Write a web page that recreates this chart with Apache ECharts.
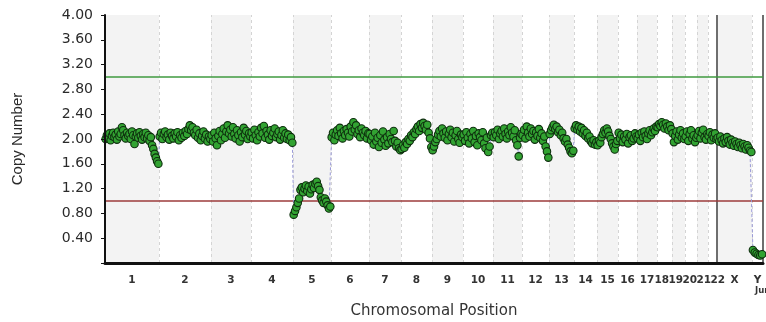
<!DOCTYPE html>
<html>
<head>
<meta charset="utf-8">
<script src="https://cdn.jsdelivr.net/npm/echarts@6/dist/echarts.min.js"></script>
<style>
html,body{margin:0;padding:0;background:#fff;}
#chart{width:766px;height:322px;}
</style>
</head>
<body>
<div id="chart"></div>
<script>
// ---- data ----
const chromNames = ['1','2','3','4','5','6','7','8','9','10','11','12','13','14','15','16','17','18','19','20','21','22','X','Y'];
const chromLengths = [54,52,40,42,38,38,32,31,31,30,29,27,25,23,21,19,20,15,13,12,11,9,35,11];
const yTickValues = [0.4,0.8,1.2,1.6,2.0,2.4,2.8,3.2,3.6,4.0];
const gainThreshold = 3.0;
const lossThreshold = 1.0;

const chr1Values = [2.00,2.06,2.02,2.09,1.98,2.05,2.10,2.03,2.07,1.99,2.12,2.04,2.08,2.19,2.14,2.06,2.01,2.10,2.05,2.08,2.00,2.12,2.06,1.92,2.04,2.09,2.02,2.11,2.05,1.99,2.08,2.03,2.10,2.01,2.06,1.97,2.03,1.90,1.84,1.76,1.70,1.64,1.60];
const chr2Values = [2.04,2.10,2.00,2.08,2.12,2.03,2.07,1.99,2.10,2.05,2.01,2.09,2.04,2.11,1.98,2.06,2.02,2.10,2.05,2.13,2.08,2.16,2.22,2.14,2.19,2.10,2.06,2.15,2.02,2.09,1.98,2.05,2.12,2.01,2.07,1.96,2.04,2.00];
const chr3Values = [2.06,1.96,2.10,2.01,1.90,2.05,2.13,1.98,2.08,2.17,2.02,2.12,2.22,2.09,2.15,2.04,2.19,2.08,2.01,2.14,2.06,1.96,2.11,2.03,2.18,2.07,2.13,2.00,2.09,2.04];
const chr4Values = [2.10,2.01,2.15,2.06,1.98,2.11,2.04,2.18,2.09,2.21,2.02,2.13,2.07,1.99,2.14,2.05,2.10,2.17,2.03,2.08,2.12,1.99,2.06,2.14,2.02,2.09,2.00,2.07,1.98,2.03,1.94];
const chr5Values = [0.78,0.84,0.90,0.97,1.04,1.18,1.22,1.14,1.20,1.25,1.16,1.23,1.12,1.19,1.26,1.21,1.28,1.31,1.24,1.18,1.06,1.01,0.97,1.04,0.99,0.93,0.88,0.91];
const chr6Values = [2.03,2.10,1.98,2.07,2.14,2.05,2.18,2.09,2.01,2.13,2.06,2.16,2.10,2.04,2.20,2.12,2.27,2.15,2.22,2.08,2.14,2.03,2.17,2.10,2.06,2.13,2.01,2.09];
const chr7Values = [2.08,1.98,2.04,1.91,2.10,1.96,2.02,1.87,2.06,1.94,2.12,1.99,1.89,2.03,1.93,2.08,2.00,1.95,2.13,1.97,1.88,1.94,1.85,1.82];
const chr8Values = [1.84,1.90,1.86,1.95,1.92,2.00,1.97,2.06,2.03,2.11,2.08,2.16,2.20,2.13,2.24,2.18,2.26,2.21,2.15,2.23,2.10,2.01,1.87];
const chr9Values = [1.82,1.88,1.95,2.00,2.07,2.13,2.04,2.17,2.09,2.02,2.12,1.98,2.08,2.15,2.03,2.10,1.96,2.06,2.13,2.00,1.94,2.07,2.03];
const chr10Values = [2.07,1.97,2.11,2.02,1.93,2.08,2.01,2.13,1.95,2.05,1.90,2.09,2.03,1.98,2.11,1.93,1.85,2.02,1.79,1.88,2.06,2.10];
const chr11Values = [2.03,2.11,2.06,2.15,2.00,2.09,2.13,2.04,2.17,2.08,2.01,2.12,2.06,2.19,2.10,2.04,2.14,1.98,1.90,1.72,2.02,2.08];
const chr12Values = [2.06,2.15,2.01,2.20,2.10,2.04,2.17,2.08,2.13,1.99,2.11,2.05,2.16,2.02,2.09,1.97,2.04,1.88,1.80,1.70];
const chr13Values = [2.08,2.14,2.19,2.23,2.16,2.20,2.11,2.15,2.06,2.10,2.01,1.96,2.00,1.91,1.86,1.80,1.77,1.81];
const chr14Values = [2.17,2.22,2.15,2.20,2.12,2.18,2.09,2.14,2.05,2.10,2.01,2.04,1.96,1.93,1.98,1.91,1.95];
const chr15Values = [1.90,1.97,1.94,2.03,2.08,2.14,2.10,2.17,2.12,2.05,2.00,1.93,1.88,1.83,1.92,1.97];
const chr16Values = [2.10,2.01,2.07,1.95,2.04,1.99,2.08,1.93,2.03,2.06,1.97,2.01,2.09,2.04];
const chr17Values = [2.01,2.07,1.97,2.10,2.03,2.12,2.05,2.00,2.09,2.14,2.06,2.11,2.17,2.13,2.20];
const chr18Values = [2.19,2.24,2.21,2.27,2.23,2.17,2.25,2.20,2.14,2.22,2.16];
const chr19Values = [2.09,1.95,2.05,2.12,1.99,2.07,2.14,2.02,2.09,2.00];
const chr20Values = [2.04,2.12,1.97,2.08,2.14,2.01,2.06,1.95,2.02];
const chr21Values = [2.06,2.13,2.01,2.10,2.15,2.03,1.99,2.08];
const chr22Values = [2.05,2.11,1.98,2.07,2.02,2.09,2.00];
const chrXValues = [2.02,1.96,2.04,1.98,1.93,2.01,1.95,2.03,1.97,1.91,1.99,1.94,1.89,1.96,1.92,1.87,1.94,1.90,1.85,1.92,1.88,1.83,1.90,1.86,1.81,1.79];
const chrYValues = [0.21,0.17,0.15,0.13,0.12,0.14];

const allChromValues = [chr1Values,chr2Values,chr3Values,chr4Values,chr5Values,chr6Values,chr7Values,chr8Values,chr9Values,chr10Values,chr11Values,chr12Values,chr13Values,chr14Values,chr15Values,chr16Values,chr17Values,chr18Values,chr19Values,chr20Values,chr21Values,chr22Values,chrXValues,chrYValues];

// ---- derived positions (genome coordinates) ----
const starts = [];
let acc = 0;
chromLengths.forEach(l => { starts.push(acc); acc += l; });
const genomeLength = acc;
const centers = chromLengths.map((l, i) => starts[i] + l / 2);

// spread crowded chromosome labels apart (relaxation), keeping order
const labelPos = centers.slice();
const minLabelGap = 14 * genomeLength / 658;
for (let it = 0; it < 300; it++) {
  for (let i = 0; i < labelPos.length - 2; i++) { // keep Y label at its centre
    const d = labelPos[i + 1] - labelPos[i];
    if (d < minLabelGap) {
      const s = (minLabelGap - d) / 2;
      labelPos[i] -= s;
      labelPos[i + 1] += s;
    }
  }
}

const points = [];
allChromValues.forEach((vals, ci) => {
  const n = vals.length, len = chromLengths[ci];
  vals.forEach((v, i) => points.push([starts[ci] + (i + 0.5) * len / n, v]));
});

const bandAreas = [];
chromNames.forEach((nm, i) => {
  if (i % 2 === 0) bandAreas.push([{ xAxis: starts[i] }, { xAxis: starts[i] + chromLengths[i] }]);
});
const xIndex = chromNames.indexOf('X');
const dashedBounds = starts.slice(1).filter((s, k) => k + 1 !== xIndex).map(s => ({ xAxis: s }));

const labelByPos = {};
labelPos.forEach((c, i) => { labelByPos[c.toFixed(3)] = chromNames[i]; });

const chart = echarts.init(document.getElementById('chart'), null, { renderer: 'canvas' });
chart.setOption({
  animation: false,
  grid: { left: 105, right: 3, top: 15, bottom: 59, containLabel: false, outerBoundsMode: 'none' },
  xAxis: {
    type: 'value', min: 0, max: genomeLength, z: 10,
    name: 'Chromosomal Position', nameLocation: 'middle', nameGap: 41,
    nameTextStyle: { fontFamily: 'DejaVu Sans', fontSize: 15, color: '#333' },
    axisLine: { show: true, lineStyle: { color: '#111', width: 3 } },
    axisTick: { show: false },
    splitLine: { show: false },
    axisLabel: {
      customValues: labelPos,
      margin: 12,
      hideOverlap: false,
      fontFamily: 'DejaVu Sans', fontSize: 10.5, fontWeight: 'bold', color: '#333',
      formatter: v => {
        const nm = labelByPos[v.toFixed(3)] || '';
        return nm === 'Y' ? '{a|Y}\n{b|Junk}' : nm;
      },
      rich: {
        a: { fontFamily: 'DejaVu Sans', fontSize: 10.5, fontWeight: 'bold', color: '#333', lineHeight: 11 },
        b: { fontFamily: 'DejaVu Sans', fontSize: 8.5, fontWeight: 'bold', color: '#333', lineHeight: 9, padding: [0, 0, 0, 16] }
      }
    }
  },
  yAxis: {
    type: 'value', min: 0, max: 4, interval: 0.4, z: 10,
    name: 'Copy Number', nameLocation: 'middle', nameGap: 80,
    nameTextStyle: { fontFamily: 'Liberation Sans', fontSize: 15, color: '#2a2a2a' },
    axisLine: { show: true, lineStyle: { color: '#111', width: 2 } },
    axisTick: { show: true, inside: false, length: 4, lineStyle: { color: '#111', width: 1 } },
    splitLine: { show: false },
    axisLabel: {
      customValues: yTickValues,
      margin: 12,
      fontFamily: 'DejaVu Sans', fontSize: 14, color: '#2a2a2a',
      formatter: v => v.toFixed(2)
    }
  },
  series: [
    {
      type: 'line', data: [], silent: true, z: 1,
      markArea: { silent: true, itemStyle: { color: '#f3f3f3' }, data: bandAreas },
      markLine: {
        silent: true, symbol: 'none', label: { show: false },
        data: [
          ...dashedBounds.map(d => ({ ...d, lineStyle: { color: '#d4d4d4', type: [3, 3], width: 1 } })),
          { xAxis: starts[xIndex], lineStyle: { color: '#6e6e6e', type: 'solid', width: 2 } },
          { xAxis: genomeLength, lineStyle: { color: '#6e6e6e', type: 'solid', width: 2 } }
        ]
      }
    },
    {
      type: 'line', data: [], silent: true, z: 2,
      markLine: {
        silent: true, symbol: 'none', label: { show: false },
        data: [
          { yAxis: gainThreshold, lineStyle: { color: '#3f9a3f', type: 'solid', width: 1.5 } },
          { yAxis: lossThreshold, lineStyle: { color: '#9c3b3b', type: 'solid', width: 1.5 } }
        ]
      }
    },
    {
      type: 'line', data: points, z: 5,
      symbol: 'circle', symbolSize: 7.5, showSymbol: true, showAllSymbol: true,
      lineStyle: { color: '#9a9ad8', width: 1, type: [3, 2] },
      itemStyle: { color: '#32a332', borderColor: '#0e2e0e', borderWidth: 1.1 },
      emphasis: { disabled: true }
    }
  ]
});
</script>
</body>
</html>
